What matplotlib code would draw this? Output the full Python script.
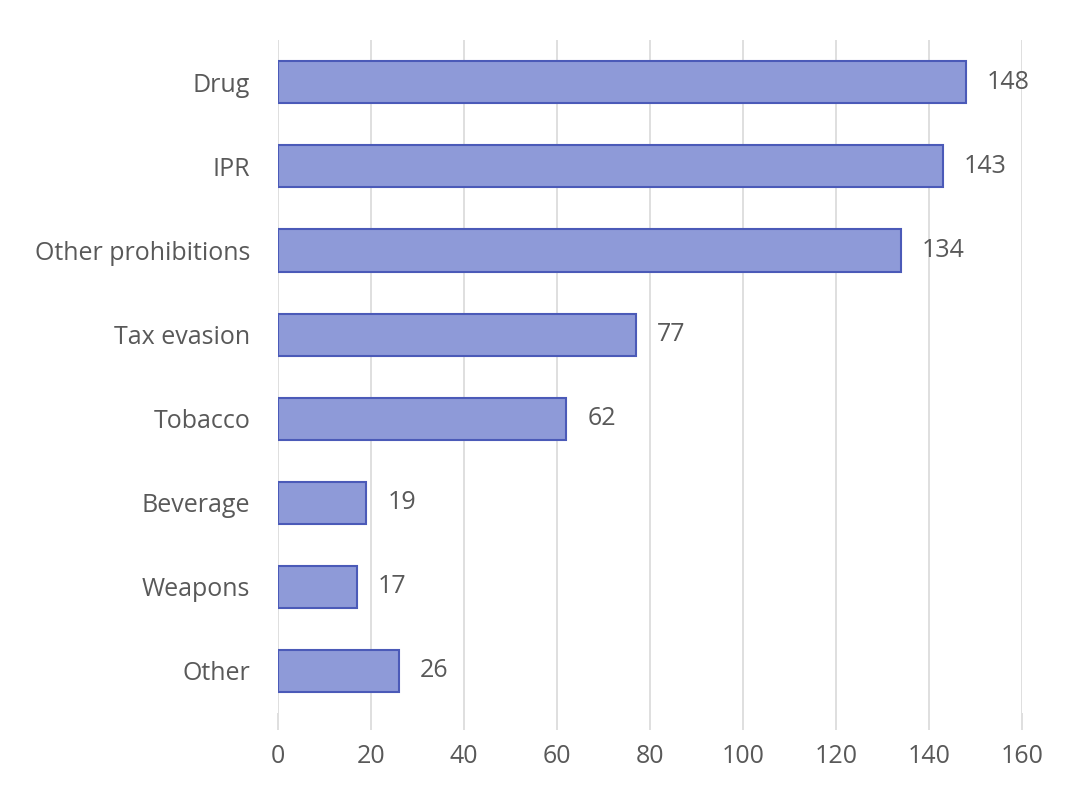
import matplotlib
matplotlib.use("Agg")
import matplotlib.pyplot as plt

categories = ["Drug", "IPR", "Other prohibitions", "Tax evasion", "Tobacco",
              "Beverage", "Weapons", "Other"]
values = [148, 143, 134, 77, 62, 19, 17, 26]
xticks = [0, 20, 40, 60, 80, 100, 120, 140, 160]

plt.rcParams['font.family'] = ['Open Sans', 'DejaVu Sans']
fig = plt.figure(figsize=(10.66, 7.9), dpi=100)
ax = fig.add_axes([0.2608, 0.0975, 0.6979, 0.8515])

ypos = list(range(len(categories)))
ax.barh(ypos, values, height=0.5, color='#8e9ad8', edgecolor='#4b5ab8', linewidth=1.5, zorder=3)
ax.set_ylim(len(categories) - 0.5, -0.5)
ax.set_xlim(0, 160)
ax.set_xticks(xticks)
ax.set_yticks(ypos)
ax.set_yticklabels(categories)
ax.grid(axis='x', color='#d9d9d9', linewidth=1.2, zorder=0)
for s in ['top', 'right', 'bottom', 'left']:
    ax.spines[s].set_visible(False)
ax.tick_params(axis='y', length=0, pad=20, labelsize=18, labelcolor='#595959')
ax.tick_params(axis='x', length=12, width=1.2, color='#d9d9d9', pad=10, labelsize=18, labelcolor='#595959')

for y, v in zip(ypos, values):
    ax.text(v + 4.5, y, str(v), va='center', ha='left', fontsize=18, color='#595959')

fig.savefig("out.png", dpi=100, facecolor='white')
